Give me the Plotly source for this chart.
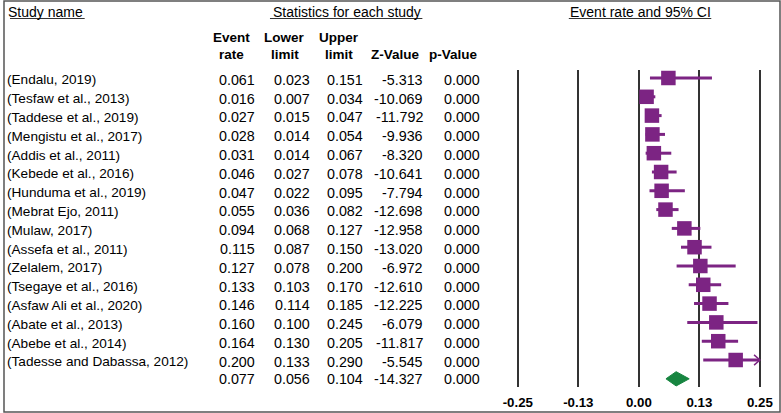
import plotly.graph_objects as go

studies = ["(Endalu, 2019)", "(Tesfaw et al., 2013)", "(Taddese et al., 2019)",
           "(Mengistu et al., 2017)", "(Addis et al., 2011)", "(Kebede et al., 2016)",
           "(Hunduma et al., 2019)", "(Mebrat Ejo, 2011)", "(Mulaw, 2017)",
           "(Assefa et al., 2011)", "(Zelalem, 2017)", "(Tsegaye et al., 2016)",
           "(Asfaw Ali et al., 2020)", "(Abate et al., 2013)", "(Abebe et al., 2014)",
           "(Tadesse and Dabassa, 2012)"]
event_rate = [0.061, 0.016, 0.027, 0.028, 0.031, 0.046, 0.047, 0.055, 0.094, 0.115,
              0.127, 0.133, 0.146, 0.160, 0.164, 0.200]
lower = [0.023, 0.007, 0.015, 0.014, 0.014, 0.027, 0.022, 0.036, 0.068, 0.087,
         0.078, 0.103, 0.114, 0.100, 0.130, 0.133]
upper = [0.151, 0.034, 0.047, 0.054, 0.067, 0.078, 0.095, 0.082, 0.127, 0.150,
         0.200, 0.170, 0.185, 0.245, 0.205, 0.290]
z_value = [-5.313, -10.069, -11.792, -9.936, -8.320, -10.641, -7.794, -12.698, -12.958,
           -13.020, -6.972, -12.610, -12.225, -6.079, -11.817, -5.545]
p_value = [0.000] * 16

summary = {"rate": 0.077, "lower": 0.056, "upper": 0.104, "z": -14.327, "p": 0.000}

tick_vals = [-0.25, -0.125, 0.0, 0.125, 0.25]
tick_text = ["-0.25", "-0.13", "0.00", "0.13", "0.25"]

W, H = 781, 413
PURPLE = "#7c2483"
GREEN = "#178540"
FONT = "Liberation Sans, Arial, sans-serif"


def px(p):
    return p / W


def py(p):
    return 1 - p / H


# pixel geometry
X0_PIX, X_SCALE = 638.3, 486.0
ROW0_PIX, ROW_STEP = 78.0, 18.8
grid_top, grid_bot = 70, 387
dom_l, dom_r = 505, 775

x_range = [(dom_l - X0_PIX) / X_SCALE, (dom_r - X0_PIX) / X_SCALE]
y_range = [(grid_bot - ROW0_PIX) / ROW_STEP, (grid_top - ROW0_PIX) / ROW_STEP]
clip = max(tick_vals)

n = len(studies)
rows = list(range(n))
sum_row = n

fig = go.Figure()

# study markers with CIs (clipped at axis max)
err_plus = [min(u, clip) - e for u, e in zip(upper, event_rate)]
err_minus = [e - l for e, l in zip(event_rate, lower)]
fig.add_trace(go.Scatter(
    x=event_rate, y=rows, mode="markers",
    marker=dict(symbol="square", size=14.5, color=PURPLE),
    error_x=dict(type="data", symmetric=False, array=err_plus, arrayminus=err_minus,
                 color=PURPLE, thickness=3, width=0),
    hoverinfo="skip", showlegend=False, cliponaxis=False,
))

# arrows for CIs exceeding the axis
for i, u in enumerate(upper):
    if u > clip:
        d = 0.012
        fig.add_trace(go.Scatter(
            x=[clip - d, clip, clip - d], y=[i - 0.27, i, i + 0.27], mode="lines",
            line=dict(color=PURPLE, width=1.5), hoverinfo="skip", showlegend=False,
            cliponaxis=False,
        ))

# summary diamond
h = 0.38
fig.add_trace(go.Scatter(
    x=[summary["lower"], summary["rate"], summary["upper"], summary["rate"], summary["lower"]],
    y=[sum_row, sum_row - h, sum_row, sum_row + h, sum_row],
    mode="lines", fill="toself", fillcolor=GREEN, line=dict(color=GREEN, width=1),
    hoverinfo="skip", showlegend=False,
))

annotations = []


def txt(x, y, text, anchor="left", size=13.5, yref="y", bold=False):
    if bold:
        text = "<b>" + text + "</b>"
    annotations.append(dict(
        x=x, y=y, xref="paper", yref=yref, text=text, showarrow=False,
        xanchor=anchor, yanchor="middle", font=dict(family=FONT, size=size, color="black"),
        borderpad=0, borderwidth=0,
    ))


# headers
txt(px(5), py(12), "Study name", yref="paper", size=14)
txt(px(345), py(12), "Statistics for each study", anchor="center", yref="paper", size=14)
txt(px(640), py(12), "Event rate and 95% CI", anchor="center", yref="paper", size=14)

col_centers = [229, 283, 337, 394, 452]
col_rights = [253, 308, 361, 422, 479]
hdr1 = ["Event", "Lower", "Upper", "", ""]
hdr2 = ["rate", "limit", "limit", "Z-Value", "p-Value"]
for c, a, b in zip(col_centers, hdr1, hdr2):
    if a:
        txt(px(c), py(37), a, anchor="center", yref="paper", size=13.5, bold=True)
    txt(px(c), py(54), b, anchor="center", yref="paper", size=13.5, bold=True)

for i in rows:
    yy = i + 0.1
    txt(px(4.5), yy, studies[i], size=13.6)
    vals = [f"{event_rate[i]:.3f}", f"{lower[i]:.3f}", f"{upper[i]:.3f}",
            f"{z_value[i]:.3f}", f"{p_value[i]:.3f}"]
    for r, v in zip(col_rights, vals):
        txt(px(r), yy, v, anchor="right", size=14.3)

svals = [f"{summary['rate']:.3f}", f"{summary['lower']:.3f}", f"{summary['upper']:.3f}",
         f"{summary['z']:.3f}", f"{summary['p']:.3f}"]
for r, v in zip(col_rights, svals):
    txt(px(r), sum_row, v, anchor="right", size=14.3)

shapes = [
    dict(type="rect", xref="paper", yref="paper", x0=px(1), x1=px(780), y0=py(412), y1=py(1),
         line=dict(color="#555555", width=1.5)),
    dict(type="line", xref="paper", yref="paper", x0=px(7), x1=px(82), y0=py(18.5), y1=py(18.5),
         line=dict(color="#333", width=1)),
    dict(type="line", xref="paper", yref="paper", x0=px(268), x1=px(421), y0=py(18.5), y1=py(18.5),
         line=dict(color="#333", width=1)),
    dict(type="line", xref="paper", yref="paper", x0=px(568), x1=px(711), y0=py(18.5), y1=py(18.5),
         line=dict(color="#333", width=1)),
]

fig.update_layout(
    width=W, height=H, margin=dict(l=0, r=0, t=0, b=0),
    paper_bgcolor="white", plot_bgcolor="white",
    annotations=annotations, shapes=shapes,
    xaxis=dict(domain=[px(dom_l), px(dom_r)], range=x_range, tickvals=tick_vals,
               ticktext=tick_text, showgrid=True, gridcolor="#333333", gridwidth=1.6,
               zeroline=False, showline=False, ticks="", ticklabelstandoff=6,
               tickfont=dict(family=FONT, size=13.3, color="black", weight="bold"),
               fixedrange=True),
    yaxis=dict(domain=[py(grid_bot), py(grid_top)], range=y_range, showgrid=False,
               zeroline=False, showticklabels=False, showline=False, fixedrange=True),
)

fig.write_html("out.html", config={"displayModeBar": False},
               post_script="document.body.style.margin='0px';document.body.style.overflow='hidden';")
